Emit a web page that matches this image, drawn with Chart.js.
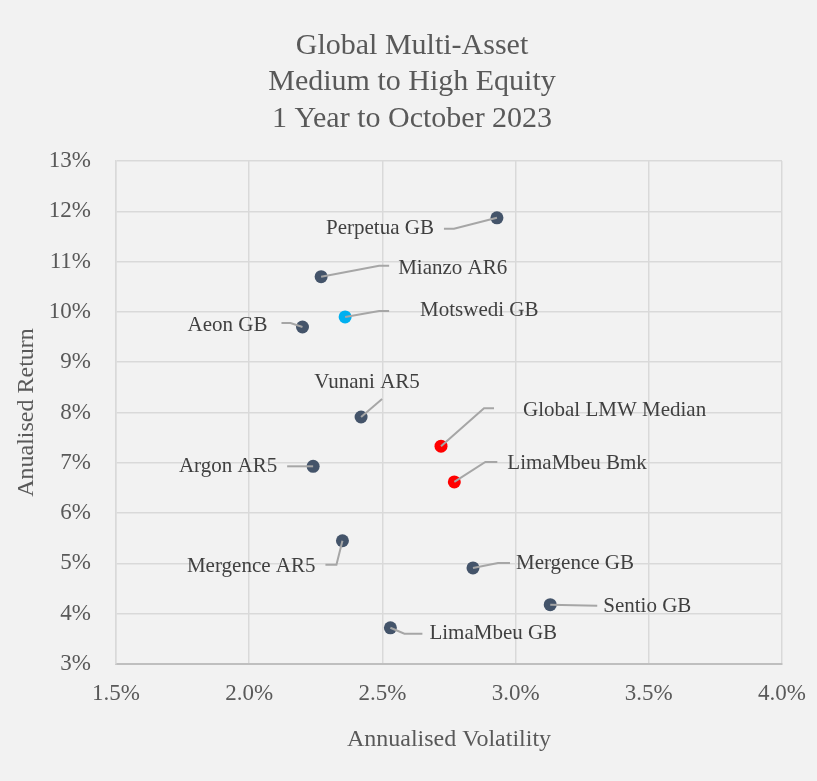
<!DOCTYPE html>
<html>
<head>
<meta charset="utf-8">
<script src="https://cdn.jsdelivr.net/npm/chart.js@4.4.0/dist/chart.umd.min.js"></script>
<style>
  html, body { margin: 0; padding: 0; background: #f2f2f2; }
  #wrap { width: 817px; height: 781px; }
</style>
</head>
<body>
<div id="wrap"><canvas id="myChart" width="817" height="781"></canvas></div>
<script>
// fund names, annualised volatility (%) and annualised return (%)
const funds = ['Perpetua GB','Mianzo AR6','Motswedi GB','Aeon GB','Vunani AR5','Global LMW Median',
               'LimaMbeu Bmk','Argon AR5','Mergence AR5','Mergence GB','Sentio GB','LimaMbeu GB'];
const volatility = [2.93, 2.27, 2.36, 2.20, 2.42, 2.72, 2.77, 2.24, 2.35, 2.84, 3.13, 2.53];
const returns    = [11.87, 10.70, 9.90, 9.70, 7.91, 7.33, 6.62, 6.93, 5.45, 4.91, 4.18, 3.72];
const group      = ['fund','fund','own','fund','fund','bench','bench','fund','fund','fund','fund','fund'];

const titleLines = ['Global Multi-Asset', 'Medium to High Equity', '1 Year to October 2023'];
const xTicks = [1.5, 2.0, 2.5, 3.0, 3.5, 4.0];
const yTicks = [3, 4, 5, 6, 7, 8, 9, 10, 11, 12, 13];

const colours = { fund: '#44546a', own: '#00b0f0', bench: '#ff0000' };
const serif = "'Liberation Serif', 'Times New Roman', serif";

// label placement relative to the point (pixels): text anchor, alignment, leader path
const placement = [
  { dx: -63, dy: 11, align: 'right', lead: [[-43, 11], [-53, 11]] },
  { dx: 77, dy: -8, align: 'left', lead: [[58, -11], [68, -11]] },
  { dx: 75, dy: -6, align: 'left', lead: [[34, -6], [44, -6]] },
  { dx: -35, dy: -2, align: 'right', lead: [[-12, -4], [-21, -4]] },
  { dx: 6, dy: -35, align: 'center', lead: [[21, -18]] },
  { dx: 82, dy: -36, align: 'left', lead: [[43, -38], [53, -38]] },
  { dx: 53, dy: -18, align: 'left', lead: [[31, -20], [43, -20]] },
  { dx: -36, dy: 0, align: 'right', lead: [[-26, 0]] },
  { dx: -27, dy: 26, align: 'right', lead: [[-6, 24], [-17, 24]] },
  { dx: 43, dy: -4, align: 'left', lead: [[25, -5], [37, -5]] },
  { dx: 53, dy: 2, align: 'left', lead: [[47, 1]] },
  { dx: 39, dy: 6, align: 'left', lead: [[14, 6], [32, 6]] }
];

const labelPlugin = {
  id: 'fundLabels',
  afterDatasetsDraw(chart) {
    const ctx = chart.ctx;
    const meta = chart.getDatasetMeta(0);
    ctx.save();
    meta.data.forEach((pt, i) => {
      const p = placement[i];
      ctx.beginPath();
      ctx.moveTo(pt.x, pt.y);
      p.lead.forEach(l => ctx.lineTo(pt.x + l[0], pt.y + l[1]));
      ctx.strokeStyle = '#a6a6a6';
      ctx.lineWidth = 2;
      ctx.stroke();
    });
    ctx.font = '21px ' + serif;
    ctx.fillStyle = '#404040';
    ctx.textBaseline = 'middle';
    meta.data.forEach((pt, i) => {
      const p = placement[i];
      ctx.textAlign = p.align;
      ctx.fillText(funds[i], pt.x + p.dx, pt.y + p.dy);
    });
    ctx.restore();
  }
};

// background + centred title (the Excel title sits on the page centre, not the plot)
const bgPlugin = {
  id: 'bg',
  beforeDraw(chart) {
    const ctx = chart.ctx;
    ctx.save();
    ctx.fillStyle = '#f2f2f2';
    ctx.fillRect(0, 0, chart.width, chart.height);
    ctx.restore();
  },
  afterDraw(chart) {
    const ctx = chart.ctx;
    ctx.save();
    ctx.font = '30px ' + serif;
    ctx.fillStyle = '#595959';
    ctx.textAlign = 'center';
    ctx.textBaseline = 'middle';
    titleLines.forEach((t, i) => ctx.fillText(t, 412, 46 + i * 36.5));
    ctx.restore();
  }
};

const ctx = document.getElementById('myChart').getContext('2d');
const myChart = new Chart(ctx, {
  type: 'scatter',
  data: {
    datasets: [{
      data: funds.map((f, i) => ({ x: volatility[i], y: returns[i] })),
      pointBackgroundColor: group.map(g => colours[g]),
      pointBorderWidth: 0,
      pointRadius: 6.5,
      pointHoverRadius: 6.5
    }]
  },
  options: {
    responsive: false,
    animation: false,
    layout: { padding: { left: 0, right: 35, top: 161, bottom: 0 } },
    plugins: {
      legend: { display: false },
      tooltip: { enabled: false },
      title: { display: false }
    },
    scales: {
      x: {
        type: 'linear',
        min: 1.5, max: 4.0,
        afterBuildTicks: s => { s.ticks = xTicks.map(v => ({ value: v })); },
        afterFit: s => { s.height = 117; s.paddingLeft = 0; s.paddingRight = 0; },
        ticks: {
          color: '#595959',
          font: { family: serif, size: 23 },
          padding: 16,
          callback: v => v.toFixed(1) + '%'
        },
        grid: { color: '#d9d9d9', lineWidth: 1.5, drawTicks: false },
        border: { color: '#bfbfbf', width: 2 },
        title: {
          display: true,
          text: 'Annualised Volatility',
          color: '#595959',
          font: { family: serif, size: 24 },
          padding: { top: 0, bottom: 27 }
        }
      },
      y: {
        type: 'linear',
        min: 3, max: 13,
        afterBuildTicks: s => { s.ticks = yTicks.map(v => ({ value: v })); },
        afterFit: s => { s.width = 116; s.paddingTop = 0; s.paddingBottom = 0; },
        ticks: {
          color: '#595959',
          font: { family: serif, size: 23 },
          padding: 25,
          callback: v => v + '%'
        },
        grid: { color: '#d9d9d9', lineWidth: 1.5, drawTicks: false },
        border: { color: '#d9d9d9', width: 1.5 },
        title: {
          display: true,
          text: 'Anualised Return',
          color: '#595959',
          font: { family: serif, size: 24 },
          padding: { top: 12, bottom: 0 }
        }
      }
    }
  },
  plugins: [bgPlugin, labelPlugin]
});
</script>
</body>
</html>
